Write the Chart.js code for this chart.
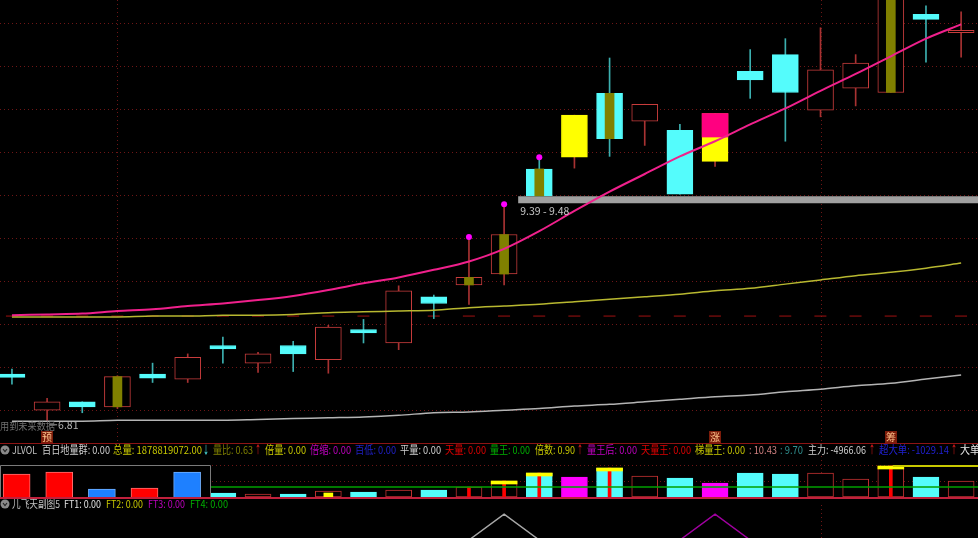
<!DOCTYPE html>
<html>
<head>
<meta charset="utf-8">
<script src="https://cdn.jsdelivr.net/npm/chart.js@4.4.1/dist/chart.umd.min.js"></script>
<style>
  html, body { margin: 0; padding: 0; background: #000; overflow: hidden; width: 978px; height: 538px; }
  canvas { position: absolute; left: 0; }
  #main { top: 0; }
  #vol { top: 443px; }
  #sub { top: 499px; }
  #inset { top: 465px; background: #000; }
</style>
</head>
<body>
<canvas id="main" width="978" height="443"></canvas>
<canvas id="vol" width="978" height="56"></canvas>
<canvas id="sub" width="978" height="41"></canvas>
<canvas id="inset" width="211" height="32"></canvas>
<script>
// K line data (yuan), one entry per trading day
var openP  = [7.36, 6.93, 7.03, 6.97, 7.36, 7.30, 7.70, 7.49, 7.70, 7.53, 7.89, 7.73, 8.28, 8.42, 8.55, 9.80, 9.94, 10.70, 10.37, 10.26, 9.89, 10.96, 11.16, 10.50, 10.76, 10.71, 11.64, 11.42];
var closeP = [7.32, 7.03, 6.97, 7.33, 7.31, 7.56, 7.66, 7.60, 7.60, 7.92, 7.85, 8.35, 8.20, 8.51, 9.02, 9.48, 10.44, 10.16, 10.57, 9.50, 10.46, 10.86, 10.71, 10.98, 11.06, 11.95, 11.58, 11.45];
var highP  = [7.42, 7.07, 7.03, 7.34, 7.49, 7.60, 7.80, 7.62, 7.75, 7.94, 8.01, 8.41, 8.30, 8.99, 9.38, 9.94, 10.44, 11.12, 10.57, 10.33, 10.46, 11.22, 11.35, 11.48, 11.16, 12.00, 11.74, 11.67];
var lowP   = [7.24, 6.81, 6.90, 6.95, 7.26, 7.26, 7.49, 7.38, 7.39, 7.37, 7.73, 7.65, 8.02, 8.19, 8.42, 9.48, 9.81, 9.95, 10.08, 9.50, 9.83, 10.64, 10.13, 10.42, 10.55, 10.71, 11.07, 11.13];

// moving averages
var maPink   = [8.06, 8.07, 8.08, 8.11, 8.13, 8.17, 8.20, 8.24, 8.29, 8.36, 8.44, 8.51, 8.60, 8.70, 8.85, 9.06, 9.30, 9.53, 9.74, 9.95, 10.13, 10.33, 10.52, 10.73, 10.93, 11.14, 11.35, 11.52];
var maYellow = [8.04, 8.04, 8.04, 8.04, 8.05, 8.05, 8.06, 8.06, 8.07, 8.09, 8.10, 8.11, 8.12, 8.15, 8.17, 8.19, 8.22, 8.25, 8.28, 8.31, 8.35, 8.38, 8.43, 8.48, 8.53, 8.57, 8.62, 8.68];
var maWhite  = [6.80, 6.80, 6.80, 6.81, 6.81, 6.81, 6.81, 6.82, 6.83, 6.84, 6.85, 6.87, 6.90, 6.91, 6.93, 6.95, 6.98, 7.00, 7.03, 7.06, 7.09, 7.11, 7.15, 7.18, 7.22, 7.25, 7.30, 7.35];

// special marks on the K line
var oliveIdx = [3, 13, 14, 15, 17, 25];
var yellowIdx = [16, 20];
var hotIdx = [20];
var hotFrom = [10.18];
var dotIdx = [13, 14, 15];
var signalIdx = [1, 20, 25];
var signalText = ["预", "涨", "筹"];
var monthIdx = [3, 23];
var gridPrices = [11.54, 11.02, 10.51, 10.00, 9.49, 8.98, 8.47, 7.95, 7.44, 6.93];
var dashLevel = 8.05;
var band = [9.39, 9.48];
var bandStart = 14.4;
var lowLabelIdx = 1;

// volume (万手)
var vol = [8, 6, 6, 12, 8, 10, 8, 6, 6, 12, 10, 14, 14, 20, 32, 48, 40, 58, 42, 38, 28, 48, 46, 48, 36, 62, 40, 32];
var volHotIdx = [16, 20];
var volCapIdx = [14, 15, 17, 25];
var volLineIdx = [3, 13, 14, 15, 17, 25];
var volMarkIdx = [9];
var volMark = [8];
var volAvg = 20;
var volHigh = 62;
var volHighStart = 25.06;
var volGrid = [32, 64];

// small popup bars
var insetVals = [23, 25, 8, 9, 25];
var insetColors = ["#ff0000", "#ff0000", "#1e80ff", "#ff0000", "#1e80ff"];

// 儿飞天副图5
var ft1 = [0,0,0,0,0,0,0,0,0,0,0,0,0,0,1,0,0,0,0,0,0,0,0,0,0,0,0,0];
var ft2 = [0,0,0,0,0,0,0,0,0,0,0,0,0,0,0,0,0,0,0,0,0,0,0,0,0,0,0,0];
var ft3 = [0,0,0,0,0,0,0,0,0,0,0,0,0,0,0,0,0,0,0,0,1,0,0,0,0,0,0,0];
var ft4 = [0,0,0,0,0,0,0,0,0,0,0,0,0,0,0,0,0,0,0,0,0,0,0,0,0,0,0,0];

var UP = "#c83c3c", DOWN = "#54fcfc", UPW = "#a83232", DOWNW = "#3cb0b0";
var XMIN = -0.34, XMAX = 27.48;
var FONT = '"Noto Sans CJK SC", "Liberation Sans", sans-serif';

function isUp(i) { return closeP[i] >= openP[i]; }
function pts(arr) { return arr.map(function (v, i) { return { x: i, y: v }; }); }

function dottedH(ctx, area, y, color) {
  ctx.save();
  ctx.strokeStyle = color; ctx.lineWidth = 1; ctx.setLineDash([1, 3]);
  ctx.beginPath(); ctx.moveTo(area.left, Math.round(y) + 0.5); ctx.lineTo(area.right, Math.round(y) + 0.5); ctx.stroke();
  ctx.restore();
}
function dottedV(ctx, x, y0, y1, color) {
  ctx.save();
  ctx.strokeStyle = color; ctx.lineWidth = 1; ctx.setLineDash([1, 3]);
  ctx.beginPath(); ctx.moveTo(Math.round(x) + 0.5, y0); ctx.lineTo(Math.round(x) + 0.5, y1); ctx.stroke();
  ctx.restore();
}
function drawSegs(ctx, segs, y) {
  ctx.save();
  ctx.font = "11px " + FONT;
  ctx.textBaseline = "middle";
  segs.forEach(function (s) {
    ctx.fillStyle = s[1];
    ctx.fillText(s[0], s[2], y, s[3]);
  });
  // the little round switch icon
  ctx.fillStyle = "#8a8a8a";
  ctx.beginPath(); ctx.arc(5, y, 4.5, 0, Math.PI * 2); ctx.fill();
  ctx.strokeStyle = "#222"; ctx.lineWidth = 1.2;
  ctx.beginPath(); ctx.moveTo(3, y - 1); ctx.lineTo(5, y + 1.5); ctx.lineTo(7, y - 1); ctx.stroke();
  ctx.restore();
}

// ---------- main K line panel ----------
var mainDecor = {
  id: "mainDecor",
  beforeDatasetsDraw: function (chart) {
    var ctx = chart.ctx, a = chart.chartArea, y = chart.scales.y, x = chart.scales.x;
    gridPrices.forEach(function (p) { dottedH(ctx, a, y.getPixelForValue(p), "#6e1616"); });
    monthIdx.forEach(function (i) { dottedV(ctx, x.getPixelForValue(i), a.top, a.bottom, "#6e1616"); });
  },
  afterDatasetsDraw: function (chart) {
    var ctx = chart.ctx, y = chart.scales.y, x = chart.scales.x;
    ctx.save();
    ctx.font = "10.5px " + FONT;
    ctx.textBaseline = "middle";
    // price band label
    ctx.fillStyle = "#c8c8c8";
    ctx.fillText(band[0].toFixed(2) + " - " + band[1].toFixed(2), x.getPixelForValue(bandStart) + 2, y.getPixelForValue(band[0]) + 8);
    // low label
    var lx = x.getPixelForValue(lowLabelIdx), ly = y.getPixelForValue(lowP[lowLabelIdx]);
    ctx.strokeStyle = "#a0a0a0"; ctx.lineWidth = 1;
    ctx.beginPath(); ctx.moveTo(lx + 2, ly + 4.5); ctx.lineTo(lx + 10, ly + 4.5); ctx.stroke();
    ctx.fillStyle = "#b4b4b4";
    ctx.fillText(lowP[lowLabelIdx].toFixed(2), lx + 11, ly + 5);
    ctx.fillStyle = "#6e6e6e";
    ctx.fillText("用到未来数据", 0, ly + 6, 55);
    // signal badges
    ctx.textAlign = "center";
    signalIdx.forEach(function (i, k) {
      var cx = Math.round(x.getPixelForValue(i));
      ctx.fillStyle = "#7c1c0a";
      ctx.fillRect(cx - 6, 431, 12, 12);
      ctx.fillStyle = "#ffc48c";
      ctx.font = "10px " + FONT;
      ctx.fillText(signalText[k], cx, 437);
    });
    ctx.restore();
  }
};

var bodyColors = openP.map(function (o, i) {
  if (yellowIdx.indexOf(i) >= 0) return "#ffff00";
  return isUp(i) ? "#000000" : DOWN;
});
var bodyBorders = openP.map(function (o, i) {
  if (yellowIdx.indexOf(i) >= 0) return "#ffff00";
  return isUp(i) ? UP : DOWN;
});
var wickColors = openP.map(function (o, i) { return isUp(i) ? UPW : DOWNW; });

new Chart("main", {
  type: "bar",
  data: {
    datasets: [
      { type: "line", data: pts(maPink), borderColor: "#f0208c", borderWidth: 2, pointRadius: 0, tension: 0.3, order: 0 },
      { type: "line", data: pts(maYellow), borderColor: "#b8b830", borderWidth: 1.5, pointRadius: 0, tension: 0.3, order: 0 },
      { type: "line", data: pts(maWhite), borderColor: "#b4b4b4", borderWidth: 1.5, pointRadius: 0, tension: 0.3, order: 0 },
      { type: "line", data: dotIdx.map(function (i) { return { x: i, y: highP[i] }; }), showLine: false,
        pointRadius: 3, pointBackgroundColor: "#ff00ff", pointBorderWidth: 0, order: 0 },
      { data: oliveIdx.map(function (i) { return { x: i, y: [openP[i], closeP[i]] }; }),
        backgroundColor: "#808000", borderWidth: 0, barThickness: 9, grouped: false, order: 1 },
      { data: hotIdx.map(function (i, k) { return { x: i, y: [hotFrom[k], Math.max(openP[i], closeP[i])] }; }),
        backgroundColor: "#ff0080", borderWidth: 0, barThickness: 26, grouped: false, order: 1 },
      { data: openP.map(function (o, i) { return { x: i, y: [o, closeP[i]] }; }),
        backgroundColor: bodyColors, borderColor: bodyBorders, borderWidth: 1, borderSkipped: false,
        barThickness: 26, grouped: false, order: 2 },
      { data: lowP.map(function (l, i) { return { x: i, y: [l, highP[i]] }; }),
        backgroundColor: wickColors, borderWidth: 0, barThickness: 1, grouped: false, order: 3 },
      { type: "line", data: [{ x: bandStart, y: (band[0] + band[1]) / 2 }, { x: XMAX, y: (band[0] + band[1]) / 2 }],
        borderColor: "#a0a0a0", borderWidth: 7, borderCapStyle: "butt", pointRadius: 0, order: 4 },
      { type: "line", data: [{ x: XMIN, y: dashLevel }, { x: XMAX, y: dashLevel }],
        borderColor: "#a01010", borderWidth: 1, borderDash: [12, 23.15], borderDashOffset: 29.2, pointRadius: 0, order: 5 }
    ]
  },
  options: {
    responsive: false, animation: false, events: [],
    layout: { padding: 0, autoPadding: false },
    plugins: { legend: { display: false }, tooltip: { enabled: false } },
    scales: {
      x: { type: "linear", min: XMIN, max: XMAX, offset: false, display: false },
      y: { min: 6.54, max: 11.81, beginAtZero: false, display: false }
    }
  },
  plugins: [mainDecor]
});

// ---------- volume panel ----------
var volHeader = [
  ["JLVOL", "#c0c0c0", 12, 25], ["百日地量群: 0.00", "#d0d0d0", 42, 68],
  ["总量: 1878819072.00", "#c8c800", 113, 89], ["↓", "#54fcfc", 203, 6],
  ["量比: 0.63", "#808000", 213, 40], ["↑", "#ff2020", 255, 6],
  ["倍量: 0.00", "#c8c800", 265, 41], ["倍缩: 0.00", "#c000c0", 310, 41],
  ["百低: 0.00", "#2020c8", 355, 41], ["平量: 0.00", "#d0d0d0", 400, 41],
  ["天量: 0.00", "#e00000", 445, 41], ["量王: 0.00", "#00b000", 490, 40],
  ["倍数: 0.90", "#c8c800", 535, 40], ["↑", "#ff2020", 577, 6],
  ["量王后: 0.00", "#c000c0", 587, 50], ["天量王: 0.00", "#e00000", 641, 50],
  ["梯量王: 0.00", "#c8c800", 695, 50], [": 10.43", "#d08080", 749, 28],
  [": 9.70", "#309090", 780, 23], ["主力: -4966.06", "#d0d0d0", 808, 58],
  ["↑", "#ff2020", 869, 6], ["超大单: -1029.14", "#2020d0", 879, 70],
  ["↑", "#ff2020", 951, 6], ["大单", "#e8e8e8", 960, 20]
];
var volDecor = {
  id: "volDecor",
  beforeDatasetsDraw: function (chart) {
    var ctx = chart.ctx, a = chart.chartArea, y = chart.scales.y, x = chart.scales.x;
    volGrid.forEach(function (v) { dottedH(ctx, a, y.getPixelForValue(v), "#6e1616"); });
    dottedV(ctx, x.getPixelForValue(monthIdx[1]), a.top, a.bottom, "#6e1616");
  },
  afterDraw: function (chart) {
    var ctx = chart.ctx;
    ctx.save();
    ctx.fillStyle = "#8c1414";
    ctx.fillRect(0, 0, 978, 1);
    ctx.fillStyle = "#c0203c";
    ctx.fillRect(0, 54, 978, 2);
    ctx.restore();
    drawSegs(ctx, volHeader, 7);
  }
};

var volColors = vol.map(function (v, i) {
  if (volHotIdx.indexOf(i) >= 0) return "#ff00ff";
  return isUp(i) ? "#000000" : DOWN;
});
var volBorders = vol.map(function (v, i) {
  if (volHotIdx.indexOf(i) >= 0) return "#ff00ff";
  return isUp(i) ? "#c03030" : DOWN;
});

new Chart("vol", {
  type: "bar",
  data: {
    datasets: [
      { type: "line", data: [{ x: volHighStart, y: volHigh }, { x: XMAX, y: volHigh }],
        borderColor: "#c8c800", borderWidth: 2, pointRadius: 0, order: 0 },
      { type: "line", data: [{ x: XMIN, y: volAvg }, { x: XMAX, y: volAvg }],
        borderColor: "#00a000", borderWidth: 1.5, pointRadius: 0, order: 0 },
      { data: volCapIdx.map(function (i) { return { x: i, y: [vol[i] - 6, vol[i]] }; }),
        backgroundColor: "#ffff00", borderWidth: 0, barThickness: 26, grouped: false, order: 1 },
      { data: volLineIdx.map(function (i) { return { x: i, y: [0, vol[i]] }; }),
        backgroundColor: "#ff0000", borderWidth: 0, barThickness: 3, grouped: false, order: 1 },
      { data: volMarkIdx.map(function (i, k) { return { x: i, y: [0, volMark[k]] }; }),
        backgroundColor: "#ffff00", borderWidth: 0, barThickness: 9, grouped: false, order: 1 },
      { data: pts(vol), backgroundColor: volColors, borderColor: volBorders, borderWidth: 1,
        borderSkipped: false, barThickness: 26, grouped: false, order: 2 }
    ]
  },
  options: {
    responsive: false, animation: false, events: [],
    layout: { padding: { top: 13, bottom: 2, left: 0, right: 0 }, autoPadding: false },
    plugins: { legend: { display: false }, tooltip: { enabled: false } },
    scales: {
      x: { type: "linear", min: XMIN, max: XMAX, offset: false, display: false },
      y: { min: 0, max: 82, display: false }
    }
  },
  plugins: [volDecor]
});

// ---------- popup bars ----------
new Chart("inset", {
  type: "bar",
  data: {
    datasets: [{
      data: pts(insetVals), backgroundColor: insetColors,
      borderColor: insetColors.map(function (c) { return c === "#ff0000" ? "#ff7070" : "#70b0ff"; }),
      borderWidth: 1, borderSkipped: "start", barThickness: 27, grouped: false
    }]
  },
  options: {
    responsive: false, animation: false, events: [],
    layout: { padding: 0, autoPadding: false },
    plugins: { legend: { display: false }, tooltip: { enabled: false } },
    scales: {
      x: { type: "linear", min: -0.39, max: 4.56, offset: false, display: false },
      y: { min: 0, max: 32, display: false }
    }
  },
  plugins: [{
    id: "insetBorder",
    afterDraw: function (chart) {
      var ctx = chart.ctx;
      ctx.save();
      ctx.strokeStyle = "#7a7a7a"; ctx.lineWidth = 1;
      ctx.beginPath();
      ctx.moveTo(0.5, 32); ctx.lineTo(0.5, 0.5); ctx.lineTo(210.5, 0.5); ctx.lineTo(210.5, 32);
      ctx.stroke();
      ctx.restore();
    }
  }]
});

// ---------- 儿飞天副图5 ----------
var subHeader = [
  ["儿飞天副图5", "#c0c0c0", 12, 48], ["FT1: 0.00", "#e0e0e0", 64, 37],
  ["FT2: 0.00", "#c8c800", 106, 37], ["FT3: 0.00", "#c000c0", 148, 37],
  ["FT4: 0.00", "#00b000", 190, 38]
];
new Chart("sub", {
  type: "line",
  data: {
    datasets: [
      { data: pts(ft1), borderColor: "#a8a8a8", borderWidth: 1.5, pointRadius: 0 },
      { data: pts(ft2), borderColor: "#c8c800", borderWidth: 1.5, pointRadius: 0 },
      { data: pts(ft3), borderColor: "#a000a0", borderWidth: 1.5, pointRadius: 0 },
      { data: pts(ft4), borderColor: "#00b000", borderWidth: 1.5, pointRadius: 0 }
    ]
  },
  options: {
    responsive: false, animation: false, events: [],
    layout: { padding: { top: 6, bottom: 0, left: 0, right: 0 }, autoPadding: false },
    plugins: { legend: { display: false }, tooltip: { enabled: false } },
    scales: {
      x: { type: "linear", min: XMIN, max: XMAX, display: false },
      y: { min: 0, max: 1.35, display: false }
    }
  },
  plugins: [{
    id: "subDecor",
    beforeDatasetsDraw: function (chart) {
      var a = chart.chartArea;
      dottedV(chart.ctx, chart.scales.x.getPixelForValue(monthIdx[1]), a.top, a.bottom, "#6e1616");
    },
    afterDraw: function (chart) { drawSegs(chart.ctx, subHeader, 5); }
  }]
});
</script>
</body>
</html>
